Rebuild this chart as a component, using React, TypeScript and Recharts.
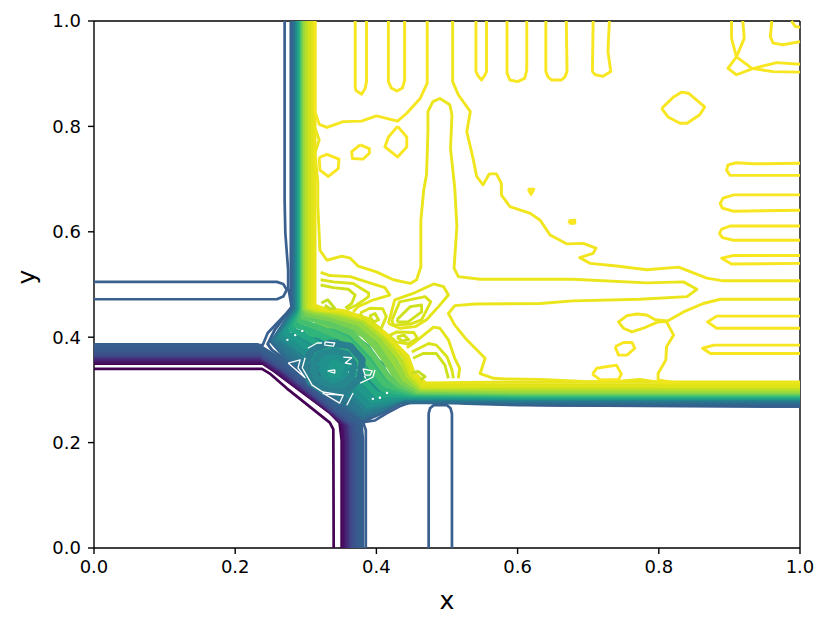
import { ReferenceLine, Scatter, ScatterChart, XAxis, YAxis } from 'recharts';

type Pt = number[];

const xTicks = [0, 0.2, 0.4, 0.6, 0.8, 1];
const yTicks = [0, 0.2, 0.4, 0.6, 0.8, 1];

// lowest level, runs alone under the band
const thinPurple: Pt[] = [[0, 0.34], [0.238, 0.34], [0.249, 0.331], [0.273, 0.303], [0.334, 0.238], [0.339, 0.225], [0.3395, 0]];

// left arm round the corner into the bottom arm
const lowLevels: Pt[][] = [
  [[0, 0.35], [0.239, 0.35], [0.256, 0.335], [0.292, 0.299], [0.334, 0.257], [0.348, 0.238], [0.351, 0.205], [0.351, 0]],
  [[0, 0.354], [0.238, 0.354], [0.258, 0.336], [0.294, 0.3], [0.335, 0.258], [0.352, 0.236], [0.354, 0.205], [0.354, 0]],
  [[0, 0.358], [0.237, 0.358], [0.261, 0.337], [0.296, 0.302], [0.337, 0.258], [0.356, 0.235], [0.358, 0.205], [0.358, 0]],
  [[0, 0.362], [0.236, 0.362], [0.263, 0.339], [0.297, 0.303], [0.338, 0.259], [0.359, 0.235], [0.361, 0.205], [0.361, 0]],
  [[0, 0.366], [0.235, 0.366], [0.266, 0.34], [0.299, 0.305], [0.339, 0.261], [0.363, 0.235], [0.365, 0.205], [0.365, 0]],
  [[0, 0.371], [0.235, 0.371], [0.268, 0.343], [0.301, 0.308], [0.341, 0.263], [0.367, 0.235], [0.369, 0.205], [0.369, 0]],
  [[0, 0.376], [0.234, 0.376], [0.27, 0.345], [0.303, 0.31], [0.342, 0.264], [0.371, 0.235], [0.373, 0.205], [0.373, 0]],
  [[0, 0.38], [0.233, 0.38], [0.273, 0.347], [0.304, 0.313], [0.344, 0.266], [0.374, 0.235], [0.376, 0.205], [0.376, 0]],
  [[0, 0.385], [0.232, 0.385], [0.275, 0.349], [0.306, 0.315], [0.345, 0.268], [0.378, 0.235], [0.38, 0.205], [0.38, 0]],
];
const lowColors = ['#440154', '#471063', '#482071', '#46307c', '#3f4889', '#3b528b', '#39588c', '#375c8d', '#35608d'];
const lowWidths = [3, 4.5, 4.5, 4.5, 4.5, 4.5, 4.5, 4.5, 4];

// the two blue boundaries and the blue fingers
const blueUpper: Pt[] = [[0, 0.385], [0.239, 0.385], [0.246, 0.408], [0.273, 0.446], [0.28, 0.457], [0.275, 0.495], [0.275, 0.527], [0.271, 0.598], [0.27, 0.66], [0.27, 1]];
const blueLower: Pt[] = [[0.385, 0], [0.385, 0.224], [0.381, 0.239], [0.398, 0.242], [0.415, 0.256], [0.433, 0.269], [0.452, 0.278], [0.466, 0.28], [0.504, 0.278], [0.528, 0.274], [0.603, 0.271], [1, 0.268]];
const blueLeftFinger: Pt[] = [[0, 0.505], [0.259, 0.505], [0.268, 0.501], [0.273, 0.49], [0.268, 0.477], [0.259, 0.472], [0, 0.472]];
const blueBottomFinger: Pt[] = [[0.474, 0], [0.474, 0.255], [0.476, 0.265], [0.481, 0.271], [0.5, 0.271], [0.505, 0.265], [0.507, 0.255], [0.507, 0]];

// under-layers of the blob, the levels above them do not close the whole area
const blobBaseEdge: Pt[] = [[0.28, 0.365], [0.32, 0.325], [0.355, 0.285], [0.385, 0.25]];
const blobBase: Pt[] = [[0.275, 0.385], [0.306, 0.398], [0.355, 0.385], [0.398, 0.338], [0.409, 0.296], [0.384, 0.29], [0.341, 0.323], [0.299, 0.361], [0.275, 0.385]];
const blobBaseGreen: Pt[] = [[0.299, 0.414], [0.348, 0.41], [0.383, 0.376], [0.407, 0.329], [0.425, 0.3]];
const blobBaseLime: Pt[] = [[0.313, 0.429], [0.355, 0.429], [0.385, 0.41], [0.411, 0.376], [0.429, 0.334], [0.44, 0.311]];

// top arm, round the blob, into the right arm
const highLevels: Pt[][] = [
  [[0.279, 1], [0.279, 0.5], [0.28, 0.457], [0.256, 0.414], [0.246, 0.387], [0.252, 0.376], [0.266, 0.362], [0.306, 0.318], [0.345, 0.271], [0.38, 0.24], [0.405, 0.254], [0.433, 0.275], [0.476, 0.277], [0.66, 0.271], [1, 0.271]],
  [[0.283, 1], [0.283, 0.5], [0.283, 0.455], [0.252, 0.391], [0.275, 0.356], [0.309, 0.321], [0.345, 0.276], [0.38, 0.245], [0.405, 0.258], [0.433, 0.277], [0.6, 0.275], [1, 0.275]],
  [[0.285, 1], [0.285, 0.5], [0.285, 0.453], [0.255, 0.393], [0.278, 0.362], [0.312, 0.326], [0.347, 0.283], [0.381, 0.25], [0.407, 0.262], [0.435, 0.281], [0.6, 0.279], [1, 0.279]],
  [[0.288, 1], [0.288, 0.5], [0.288, 0.453], [0.258, 0.395], [0.28, 0.368], [0.315, 0.331], [0.349, 0.289], [0.382, 0.256], [0.408, 0.266], [0.436, 0.284], [0.6, 0.282], [1, 0.282]],
  [[0.289, 1], [0.289, 0.5], [0.289, 0.452], [0.262, 0.398], [0.285, 0.376], [0.322, 0.34], [0.355, 0.302], [0.385, 0.264], [0.409, 0.271], [0.439, 0.286], [0.6, 0.284], [1, 0.284]],
  [[0.29, 1], [0.29, 0.5], [0.29, 0.45], [0.266, 0.402], [0.289, 0.38], [0.326, 0.345], [0.36, 0.307], [0.388, 0.271], [0.412, 0.277], [0.442, 0.287], [0.6, 0.286], [1, 0.286]],
  [[0.292, 1], [0.292, 0.5], [0.292, 0.45], [0.272, 0.408], [0.296, 0.387], [0.334, 0.357], [0.367, 0.317], [0.394, 0.281], [0.416, 0.285], [0.445, 0.289], [0.6, 0.287], [1, 0.287]],
  [[0.293, 1], [0.293, 0.5], [0.293, 0.45], [0.279, 0.416], [0.305, 0.397], [0.343, 0.368], [0.374, 0.328], [0.401, 0.29], [0.421, 0.292], [0.448, 0.291], [0.6, 0.289], [1, 0.289]],
  [[0.295, 1], [0.295, 0.5], [0.295, 0.452], [0.286, 0.423], [0.313, 0.408], [0.353, 0.381], [0.382, 0.34], [0.408, 0.302], [0.425, 0.298], [0.45, 0.293], [0.6, 0.291], [1, 0.291]],
  [[0.296, 1], [0.296, 0.5], [0.296, 0.452], [0.292, 0.431], [0.32, 0.417], [0.358, 0.395], [0.387, 0.353], [0.412, 0.311], [0.428, 0.304], [0.453, 0.295], [0.6, 0.293], [1, 0.293]],
  [[0.297, 1], [0.297, 0.5], [0.297, 0.453], [0.297, 0.438], [0.327, 0.429], [0.365, 0.408], [0.394, 0.368], [0.418, 0.323], [0.432, 0.309], [0.456, 0.297], [0.6, 0.295], [1, 0.295]],
  [[0.299, 1], [0.299, 0.5], [0.299, 0.453], [0.302, 0.444], [0.333, 0.436], [0.371, 0.419], [0.399, 0.381], [0.424, 0.334], [0.436, 0.315], [0.459, 0.299], [0.6, 0.297], [1, 0.297]],
  [[0.3, 1], [0.3, 0.5], [0.3, 0.455], [0.306, 0.45], [0.337, 0.442], [0.375, 0.427], [0.405, 0.393], [0.429, 0.345], [0.44, 0.321], [0.462, 0.302], [0.6, 0.299], [1, 0.299]],
  [[0.302, 1], [0.302, 0.5], [0.302, 0.457], [0.31, 0.452], [0.341, 0.446], [0.38, 0.433], [0.409, 0.4], [0.435, 0.355], [0.445, 0.326], [0.463, 0.304], [0.6, 0.302], [1, 0.302]],
  [[0.305, 1], [0.305, 0.5], [0.305, 0.457], [0.314, 0.453], [0.346, 0.448], [0.384, 0.435], [0.412, 0.404], [0.439, 0.362], [0.448, 0.33], [0.465, 0.306], [0.6, 0.306], [1, 0.306]],
  [[0.31, 1], [0.31, 0.5], [0.31, 0.459], [0.32, 0.453], [0.35, 0.45], [0.387, 0.435], [0.415, 0.404], [0.442, 0.364], [0.45, 0.334], [0.467, 0.309], [0.6, 0.309], [1, 0.309]],
  [[0.313, 1], [0.313, 0.5], [0.313, 0.461], [0.329, 0.453], [0.355, 0.45], [0.391, 0.433], [0.418, 0.4], [0.445, 0.364], [0.453, 0.334], [0.47, 0.313], [0.6, 0.315], [1, 0.315]],
];
const highColors = ['#35608d', '#31688e', '#2d718e', '#2a788e', '#26828e', '#21908d', '#1f9a8a', '#22a884', '#2fb47c', '#44bf70', '#5ec962', '#7ad151', '#95d840', '#b5de2b', '#d2e21b', '#e0e318', '#e8e419'];
const highWidths = [3, 4, 5, 6, 6, 6, 6, 6, 6, 6, 6, 6, 6, 5, 4, 4, 3];

// rings in the middle of the blob
const blobRings: Pt[][] = [
  [[0.297, 0.347], [0.309, 0.376], [0.334, 0.389], [0.363, 0.383], [0.38, 0.357], [0.377, 0.323], [0.356, 0.296], [0.327, 0.296], [0.306, 0.315]],
  [[0.31, 0.345], [0.319, 0.366], [0.339, 0.374], [0.358, 0.368], [0.368, 0.349], [0.365, 0.326], [0.35, 0.309], [0.329, 0.311], [0.314, 0.324]],
  [[0.322, 0.343], [0.329, 0.359], [0.341, 0.362], [0.353, 0.355], [0.357, 0.34], [0.351, 0.324], [0.339, 0.319], [0.327, 0.327]],
  [[0.333, 0.342], [0.341, 0.351], [0.35, 0.344], [0.346, 0.33], [0.336, 0.33]],
];
const ringColors = ['#2a7f8e', '#26888e', '#21918d', '#1f9a8a'];

// places where no level reaches inside the blob
const blobGaps: Pt[][] = [
  [[0.275, 0.351], [0.292, 0.357], [0.289, 0.342], [0.299, 0.323], [0.275, 0.351]],
  [[0.299, 0.361], [0.295, 0.342], [0.309, 0.309], [0.324, 0.296], [0.351, 0.29]],
  [[0.324, 0.294], [0.348, 0.275], [0.353, 0.29], [0.327, 0.292], [0.324, 0.294]],
  [[0.303, 0.379], [0.316, 0.389], [0.323, 0.389]],
  [[0.327, 0.391], [0.341, 0.389], [0.339, 0.383], [0.327, 0.385], [0.327, 0.391]],
  [[0.353, 0.362], [0.365, 0.361], [0.356, 0.351], [0.365, 0.349]],
  [[0.331, 0.336], [0.341, 0.338], [0.341, 0.332], [0.331, 0.336]],
  [[0.381, 0.34], [0.394, 0.336], [0.391, 0.328], [0.384, 0.328], [0.381, 0.34]],
  [[0.398, 0.338], [0.395, 0.324], [0.377, 0.313]],
  [[0.358, 0.271], [0.367, 0.294]],
];
const blobSpecks: Pt[] = [[0.285, 0.404], [0.295, 0.412], [0.274, 0.395], [0.405, 0.285], [0.415, 0.294], [0.395, 0.283]];

// yellow levels, upper right
const yellowLong1: Pt[] = [[0.472, 1], [0.472, 0.882], [0.462, 0.853], [0.443, 0.825], [0.43, 0.81], [0.4, 0.82], [0.379, 0.81], [0.353, 0.809], [0.33, 0.798], [0.319, 0.804], [0.313, 0.828], [0.313, 1]];
const yellowLong2: Pt[] = [[0.508, 1], [0.508, 0.885], [0.516, 0.86], [0.533, 0.828], [0.528, 0.79], [0.537, 0.739], [0.542, 0.705], [0.551, 0.689], [0.56, 0.71], [0.57, 0.71], [0.577, 0.692], [0.577, 0.67], [0.589, 0.648], [0.618, 0.635], [0.632, 0.622], [0.646, 0.594], [0.67, 0.577], [0.693, 0.578], [0.711, 0.569], [0.707, 0.559], [0.688, 0.551], [0.703, 0.54], [0.74, 0.535], [0.783, 0.528], [0.828, 0.533], [0.868, 0.512], [0.891, 0.507], [1, 0.507]];
const yellowLong3: Pt[] = [[0.313, 0.797], [0.319, 0.774], [0.313, 0.75], [0.317, 0.694], [0.317, 0.651], [0.32, 0.565], [0.33, 0.546], [0.351, 0.554], [0.363, 0.55], [0.374, 0.535], [0.4, 0.524], [0.424, 0.509], [0.448, 0.502], [0.457, 0.509], [0.463, 0.534], [0.463, 0.622], [0.467, 0.679], [0.471, 0.708], [0.473, 0.79], [0.473, 0.828], [0.48, 0.847], [0.49, 0.853], [0.504, 0.841], [0.507, 0.822], [0.505, 0.758], [0.511, 0.683], [0.514, 0.61], [0.51, 0.531], [0.516, 0.515], [0.547, 0.51], [0.678, 0.51], [0.783, 0.503], [0.835, 0.505], [0.854, 0.491], [0.84, 0.477], [0.773, 0.472], [0.678, 0.469], [0.632, 0.464], [0.54, 0.463], [0.511, 0.46], [0.502, 0.445], [0.511, 0.423], [0.528, 0.395], [0.554, 0.36], [0.547, 0.331], [0.566, 0.322], [0.582, 0.321], [0.632, 0.32], [0.693, 0.316], [0.731, 0.315], [0.749, 0.317], [0.773, 0.32], [0.787, 0.317], [0.805, 0.313], [1, 0.313]];
const yellowLong4: Pt[] = [[1, 0.472], [0.887, 0.472], [0.863, 0.464], [0.835, 0.448], [0.813, 0.431], [0.795, 0.433], [0.783, 0.442], [0.769, 0.444], [0.755, 0.441], [0.743, 0.429], [0.75, 0.417], [0.762, 0.41], [0.778, 0.417], [0.799, 0.429], [0.811, 0.429], [0.821, 0.404], [0.811, 0.382], [0.81, 0.357], [0.799, 0.331], [0.799, 0.319], [0.821, 0.314]];
const yellowOpen: Pt[][] = [
  [[0.37, 1], [0.37, 0.875], [0.371, 0.868], [0.379, 0.861], [0.384, 0.872], [0.386, 0.885], [0.386, 1]],
  [[0.417, 1], [0.417, 0.885], [0.421, 0.873], [0.429, 0.867], [0.437, 0.873], [0.44, 0.888], [0.44, 1]],
  [[0.541, 1], [0.541, 0.904], [0.544, 0.896], [0.549, 0.888], [0.553, 0.896], [0.556, 0.904], [0.556, 1]],
  [[0.585, 1], [0.585, 0.901], [0.589, 0.888], [0.6, 0.885], [0.61, 0.891], [0.613, 0.907], [0.613, 1]],
  [[0.64, 1], [0.64, 0.904], [0.643, 0.894], [0.648, 0.888], [0.662, 0.888], [0.667, 0.894], [0.67, 0.904], [0.669, 1]],
  [[0.707, 1], [0.706, 0.904], [0.71, 0.898], [0.721, 0.895], [0.732, 0.904], [0.728, 0.942], [0.73, 1]],
  [[0.903, 1], [0.903, 0.967], [0.91, 0.932], [0.932, 0.91], [0.962, 0.904], [1, 0.903]],
  [[0.919, 1], [0.921, 0.967], [0.91, 0.932], [0.898, 0.91], [0.91, 0.898], [0.934, 0.91], [0.967, 0.921], [1, 0.918]],
  [[0.96, 1], [0.958, 0.97], [0.962, 0.958], [0.976, 0.955], [1, 0.961]],
  [[0.988, 1], [0.993, 0.99], [1, 0.988]],
  [[1, 0.73], [0.934, 0.729], [0.91, 0.731], [0.898, 0.727], [0.896, 0.717], [0.901, 0.707], [1, 0.707]],
  [[1, 0.67], [0.906, 0.67], [0.891, 0.664], [0.887, 0.654], [0.89, 0.645], [0.906, 0.639], [1, 0.641]],
  [[1, 0.611], [0.901, 0.611], [0.889, 0.605], [0.886, 0.597], [0.89, 0.589], [0.906, 0.584], [1, 0.584]],
  [[1, 0.555], [0.906, 0.555], [0.889, 0.55], [0.903, 0.539], [1, 0.54]],
  [[1, 0.44], [0.882, 0.44], [0.869, 0.429], [0.882, 0.417], [1, 0.417]],
  [[1, 0.385], [0.878, 0.385], [0.862, 0.379], [0.873, 0.369], [1, 0.369]],
];
const yellowClosed: Pt[][] = [
  [[0.43, 0.8], [0.443, 0.78], [0.443, 0.761], [0.43, 0.742], [0.412, 0.761], [0.417, 0.78]],
  [[0.377, 0.765], [0.39, 0.758], [0.39, 0.749], [0.381, 0.738], [0.366, 0.739], [0.365, 0.752]],
  [[0.319, 0.741], [0.33, 0.747], [0.347, 0.738], [0.346, 0.72], [0.332, 0.705], [0.32, 0.717]],
  [[0.804, 0.834], [0.821, 0.856], [0.832, 0.865], [0.842, 0.863], [0.865, 0.837], [0.858, 0.822], [0.84, 0.806], [0.83, 0.806], [0.813, 0.818]],
  [[0.615, 0.681], [0.623, 0.681], [0.619, 0.671]],
  [[0.672, 0.621], [0.681, 0.622], [0.681, 0.616], [0.675, 0.616]],
  [[0.738, 0.382], [0.75, 0.39], [0.762, 0.39], [0.766, 0.379], [0.755, 0.366], [0.743, 0.366]],
  [[0.706, 0.33], [0.712, 0.341], [0.74, 0.347], [0.747, 0.33], [0.743, 0.32], [0.717, 0.319]],
];

// greener levels next to the blob
const limeOpen: Pt[][] = [
  [[0.321, 0.523], [0.334, 0.517], [0.363, 0.515], [0.386, 0.505], [0.412, 0.494], [0.419, 0.48], [0.396, 0.471], [0.374, 0.458], [0.367, 0.448]],
  [[0.321, 0.509], [0.339, 0.505], [0.367, 0.502], [0.389, 0.484], [0.389, 0.477], [0.372, 0.461], [0.358, 0.452]],
  [[0.321, 0.499], [0.339, 0.494], [0.36, 0.491], [0.37, 0.48], [0.365, 0.464], [0.356, 0.455]],
  [[0.322, 0.465], [0.331, 0.471], [0.341, 0.455], [0.334, 0.454], [0.327, 0.461]],
  [[0.443, 0.38], [0.455, 0.391], [0.481, 0.419], [0.49, 0.417], [0.502, 0.395], [0.511, 0.36], [0.518, 0.341], [0.516, 0.322]],
  [[0.45, 0.372], [0.474, 0.388], [0.485, 0.385], [0.5, 0.363], [0.507, 0.338], [0.509, 0.322]],
  [[0.452, 0.36], [0.466, 0.369], [0.485, 0.369], [0.497, 0.347], [0.502, 0.322]],
  [[0.45, 0.332], [0.459, 0.335], [0.469, 0.325], [0.462, 0.319]],
];
const limeOpenColors = ['#e4e419', '#dae319', '#cfe11c', '#c4df23', '#e4e419', '#dae319', '#cfe11c', '#c4df23'];
const limeClosed: Pt[][] = [
  [[0.377, 0.446], [0.391, 0.455], [0.409, 0.454], [0.414, 0.439], [0.407, 0.417], [0.393, 0.425], [0.38, 0.438]],
  [[0.39, 0.44], [0.398, 0.445], [0.403, 0.433], [0.396, 0.429]],
  [[0.417, 0.426], [0.426, 0.471], [0.452, 0.483], [0.481, 0.501], [0.495, 0.496], [0.502, 0.48], [0.488, 0.458], [0.471, 0.433], [0.455, 0.42], [0.433, 0.417]],
  [[0.422, 0.433], [0.433, 0.467], [0.469, 0.477], [0.477, 0.467], [0.464, 0.433], [0.448, 0.425], [0.424, 0.423]],
  [[0.429, 0.433], [0.448, 0.458], [0.464, 0.461], [0.464, 0.448], [0.445, 0.429], [0.431, 0.429]],
  [[0.418, 0.403], [0.429, 0.41], [0.453, 0.409], [0.458, 0.398], [0.445, 0.387], [0.428, 0.391]],
  [[0.429, 0.4], [0.439, 0.404], [0.446, 0.395], [0.436, 0.393]],
];
const limeClosedColors = ['#dae319', '#cfe11c', '#e4e419', '#dae319', '#cfe11c', '#dae319', '#cfe11c'];

const toPoints = (line: Pt[]) => line.map(([x, y]) => ({ x, y }));
const closed = (line: Pt[]) => [...line, line[0]];
const noDot = () => null;

function contour(line: Pt[], color: string, width: number, key: string) {
  return (
    <Scatter
      key={key}
      data={toPoints(line)}
      line={{ stroke: color, strokeWidth: width, strokeLinejoin: 'round', fill: 'none' }}
      shape={noDot}
      fill="none"
      isAnimationActive={false}
    />
  );
}

export default function App() {
  return (
    <div style={{ position: 'absolute', left: 0, top: 0, width: 830, height: 630, background: '#fff', fontFamily: 'DejaVu Sans' }}>
      <ScatterChart width={830} height={630} margin={{ top: 21, right: 30, bottom: 0, left: 0 }}>
        <XAxis
          type="number"
          dataKey="x"
          domain={[0, 1]}
          ticks={xTicks}
          tickFormatter={(v: number) => v.toFixed(1)}
          height={82}
          tickSize={6}
          tickMargin={6}
          stroke="#000"
          strokeWidth={1.4}
          tick={{ fill: '#000', fontSize: 18 }}
          label={{ value: 'x', position: 'insideBottom', offset: 21, fill: '#000', fontSize: 25 }}
        />
        <YAxis
          type="number"
          dataKey="y"
          domain={[0, 1]}
          ticks={yTicks}
          tickFormatter={(v: number) => v.toFixed(1)}
          width={94}
          tickSize={6}
          tickMargin={7}
          stroke="#000"
          strokeWidth={1.4}
          tick={{ fill: '#000', fontSize: 18 }}
          label={{ value: 'y', angle: -90, position: 'insideLeft', offset: 26, fill: '#000', fontSize: 25 }}
        />
        {contour(thinPurple, '#440154', 2.7, 'thin')}
        {lowLevels.map((line, i) => contour(line, lowColors[i], lowWidths[i], `low-${i}`))}
        {contour(blueUpper, '#3a6090', 2.7, 'blue-upper')}
        {contour(blueLower, '#3a6090', 2.7, 'blue-lower')}
        {contour(blueLeftFinger, '#3a6090', 2.7, 'blue-left')}
        {contour(blueBottomFinger, '#3a6090', 2.7, 'blue-bottom')}
        {contour(blobBaseEdge, '#2a788e', 9, 'blob-edge')}
        {contour(blobBase, '#21908d', 22, 'blob-base')}
        {contour(blobBaseGreen, '#35b779', 14, 'blob-green')}
        {contour(blobBaseLime, '#6ece58', 13, 'blob-lime')}
        {highLevels.map((line, i) => contour(line, highColors[i], highWidths[i], `high-${i}`))}
        {blobRings.map((line, i) => contour(closed(line), ringColors[i], 7, `ring-${i}`))}
        {blobGaps.map((line, i) => contour(line, '#fff', 1.3, `gap-${i}`))}
        <Scatter data={toPoints(blobSpecks)} fill="#fff" shape={(p: any) => <circle cx={p.cx} cy={p.cy} r={1.2} fill="#fff" />} isAnimationActive={false} />
        {limeOpen.map((line, i) => contour(line, limeOpenColors[i], 2.9, `lime-${i}`))}
        {limeClosed.map((line, i) => contour(closed(line), limeClosedColors[i], 2.9, `lime-c-${i}`))}
        {contour(yellowLong1, '#f6e61f', 2.9, 'long-1')}
        {contour(yellowLong2, '#f1e51d', 2.9, 'long-2')}
        {contour(yellowLong3, '#ebe51b', 2.9, 'long-3')}
        {contour(yellowLong4, '#f1e51d', 2.9, 'long-4')}
        {yellowOpen.map((line, i) => contour(line, '#f8e621', 2.9, `yellow-${i}`))}
        {yellowClosed.map((line, i) => contour(closed(line), '#f8e621', 2.9, `yellow-c-${i}`))}
        <ReferenceLine x={1} stroke="#000" strokeWidth={1.4} />
        <ReferenceLine y={1} stroke="#000" strokeWidth={1.4} />
      </ScatterChart>
    </div>
  );
}
